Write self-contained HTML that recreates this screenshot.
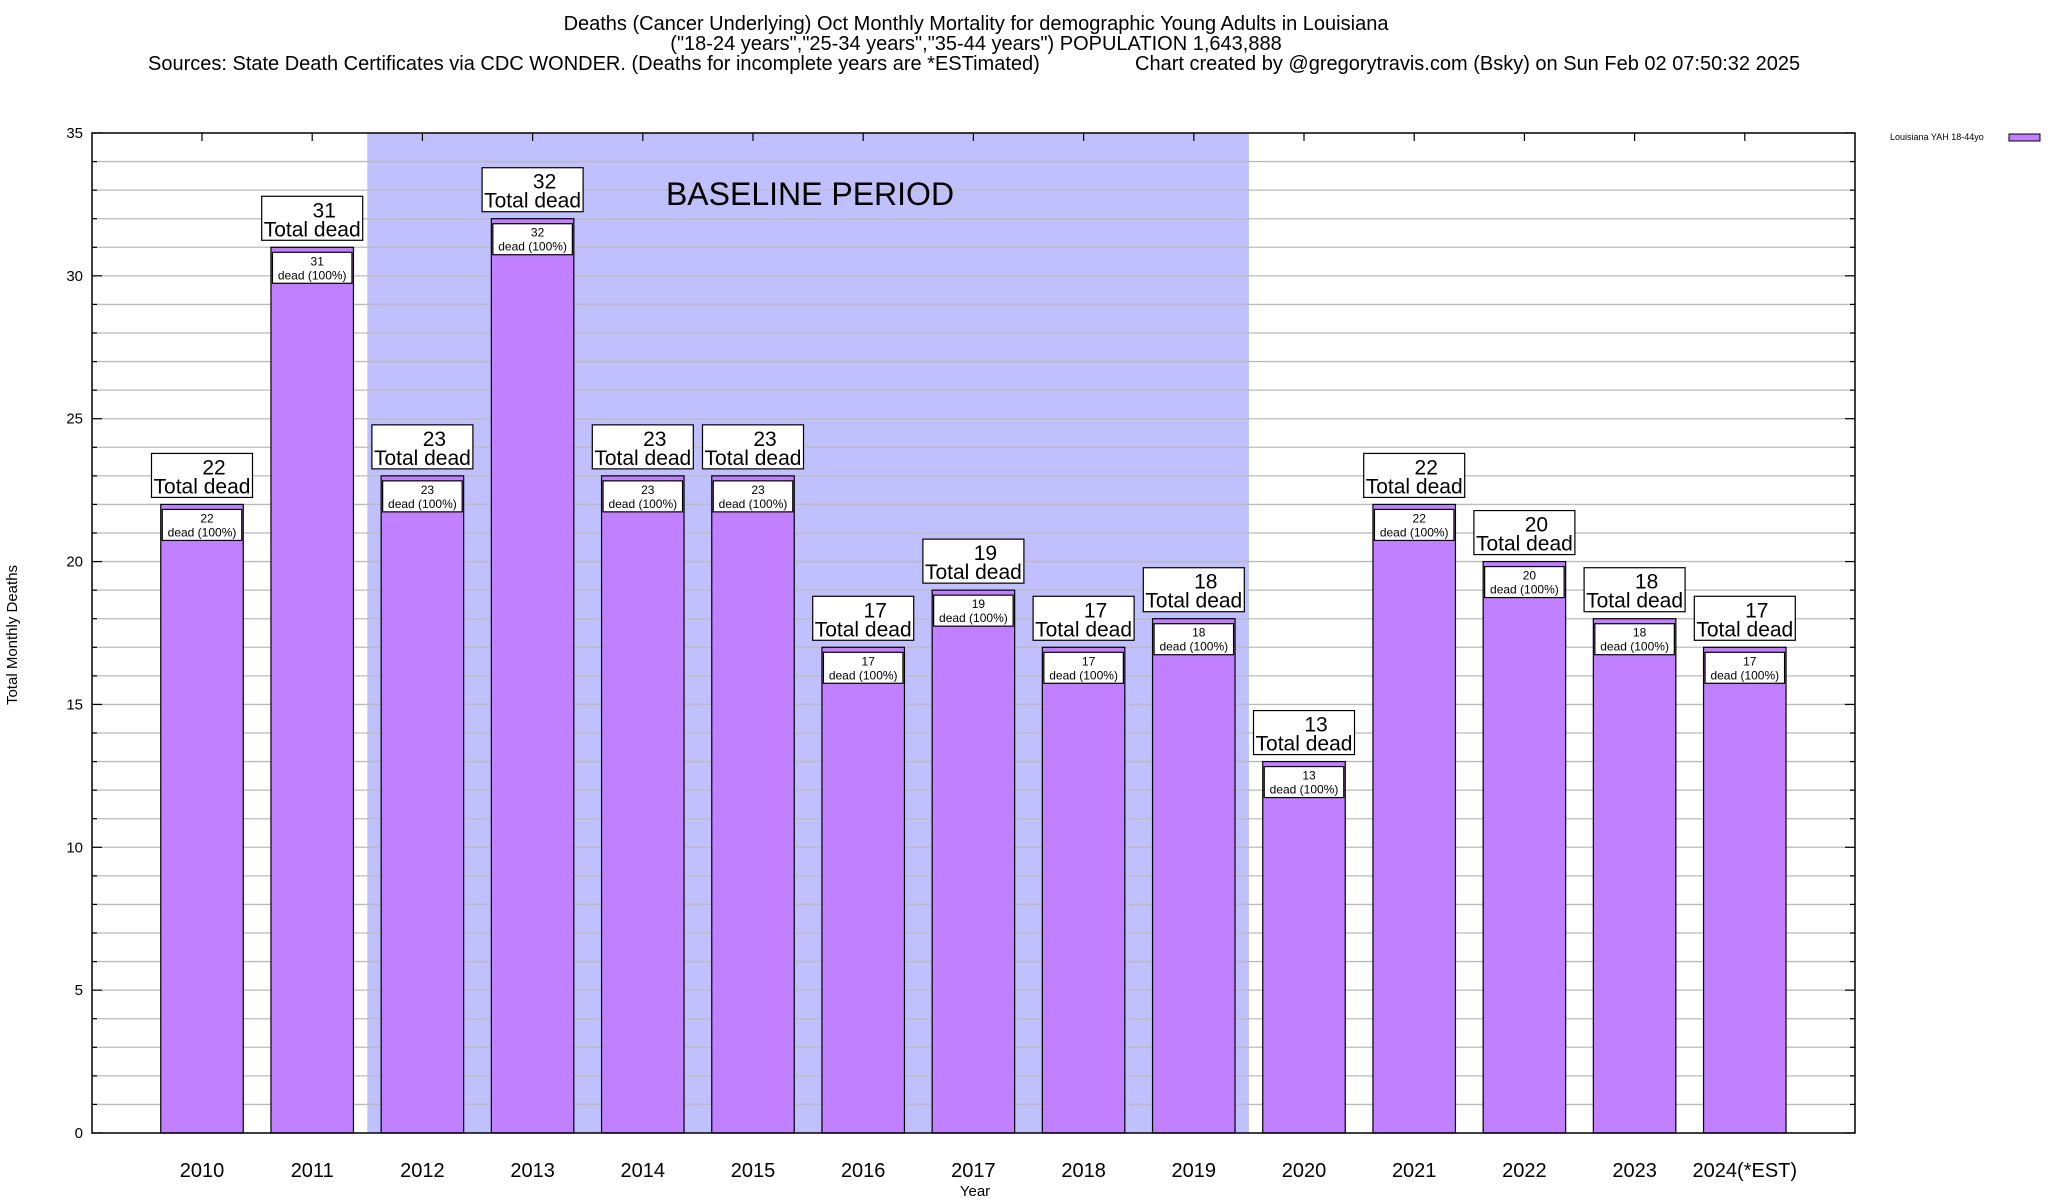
<!DOCTYPE html>
<html><head><meta charset="utf-8"><style>
html,body{margin:0;padding:0;background:#fff}
svg{display:block;font-family:"Liberation Sans",sans-serif}
</style></head><body>
<svg id="chart" width="2048" height="1200" viewBox="0 0 2048 1200" xmlns="http://www.w3.org/2000/svg">
<g font-size="20" fill="#000">
<text x="976" y="30" text-anchor="middle">Deaths (Cancer Underlying) Oct Monthly Mortality for demographic Young Adults in Louisiana</text>
<text x="976" y="50" text-anchor="middle">("18-24 years","25-34 years","35-44 years") POPULATION 1,643,888</text>
<text x="148" y="70">Sources: State Death Certificates via CDC WONDER. (Deaths for incomplete years are *ESTimated)</text>
<text x="1135" y="70">Chart created by @gregorytravis.com (Bsky) on Sun Feb 02 07:50:32 2025</text>
</g>
<g id="grid"></g>
<g id="bars"></g>
<g id="axes"></g>
<text x="17" y="635" transform="rotate(-90 17 635)" text-anchor="middle" font-size="15">Total Monthly Deaths</text>
<text x="975" y="1196" text-anchor="middle" font-size="15">Year</text>
<g>
<text x="1890" y="140" font-size="9">Louisiana YAH 18-44yo</text>
<rect x="2009" y="134" width="31" height="7" fill="#c080ff" stroke="#000" stroke-width="1"/>
</g>
</svg>
<script>
const categories=["2010","2011","2012","2013","2014","2015","2016","2017","2018","2019","2020","2021","2022","2023","2024(*EST)"];
const values=[22,31,23,32,23,23,17,19,17,18,13,22,20,18,17];
const yTicks=[0,5,10,15,20,25,30,35];
const baselineStart=1.5, baselineEnd=9.5;
const L=92,R=1855,T=133,B=1133,yMax=35,step=110.2;
const NS="http://www.w3.org/2000/svg";
function X(i){return 202+(i)*step;}
function Y(v){return B-(v/yMax)*(B-T);}
function mk(tag,attrs,parent,txt){const e=document.createElementNS(NS,tag);for(const k in attrs)e.setAttribute(k,attrs[k]);if(txt!==undefined)e.textContent=txt;parent.appendChild(e);return e;}
const grid=document.getElementById('grid');
const bars=document.getElementById('bars');
const axes=document.getElementById('axes');
const band=mk('rect',{x:X(baselineStart),y:T,width:X(baselineEnd)-X(baselineStart),height:B-T,fill:'#c0c0ff'},grid);


for(let v=1;v<yMax;v++){
  const g=mk('line',{x1:L,x2:R,y1:Y(v),y2:Y(v),stroke:'#bbb','stroke-width':1.3},grid);
  
  
}
const bl=mk('text',{x:810,y:205,'text-anchor':'middle','font-size':'32'},grid,'BASELINE PERIOD');


values.forEach((v,i)=>{
  const cx=X(i),w=82.5,top=Y(v);
  const r=mk('rect',{x:cx-w/2,y:top,width:w,height:B-top,fill:'#c080ff',stroke:'#000','stroke-width':1.2},bars);
  
  
  const ib=mk('rect',{x:cx-w/2+1.5,y:top+5,width:w-3,height:31,fill:'#fff',stroke:'#000','stroke-width':1.2},bars);
  
  
  const t1=mk('text',{x:cx+5,y:top+18,'text-anchor':'middle','font-size':'12'},bars,String(v));
  
  
  const t2=mk('text',{x:cx,y:top+32,'text-anchor':'middle','font-size':'12'},bars,'dead (100%)');
  
  
  const ob=mk('rect',{x:cx-50.5,y:top-51,width:101,height:44,fill:'#fff',stroke:'#000','stroke-width':1.2},bars);
  
  
  const o1=mk('text',{x:cx+12,y:top-30,'text-anchor':'middle','font-size':'21'},bars,String(v));
  
  
  const o2=mk('text',{x:cx,y:top-11,'text-anchor':'middle','font-size':'21'},bars,'Total dead');
  
  
  const xl=mk('text',{x:cx,y:1177,'text-anchor':'middle','font-size':'20'},axes,categories[i]);
  
  
  const tk=mk('line',{x1:cx,x2:cx,y1:T,y2:T+8,stroke:'#000','stroke-width':1.2},axes);
  
  
});
const frame=mk('rect',{x:L,y:T,width:R-L,height:B-T,fill:'none',stroke:'#000','stroke-width':1.5},axes);


for(let v=0;v<=yMax;v++){
  const major=yTicks.includes(v);const len=major?10:5;
  const a=mk('line',{x1:L,x2:L+len,y1:Y(v),y2:Y(v),stroke:'#000','stroke-width':1.2},axes);
  
  
  const b=mk('line',{x1:R,x2:R-len,y1:Y(v),y2:Y(v),stroke:'#000','stroke-width':1.2},axes);
  
  
}
yTicks.forEach(v=>{
  const t=mk('text',{x:L-9,y:Y(v)+5,'text-anchor':'end','font-size':'15'},axes,String(v));
  
  
});
</script>
</body></html>
